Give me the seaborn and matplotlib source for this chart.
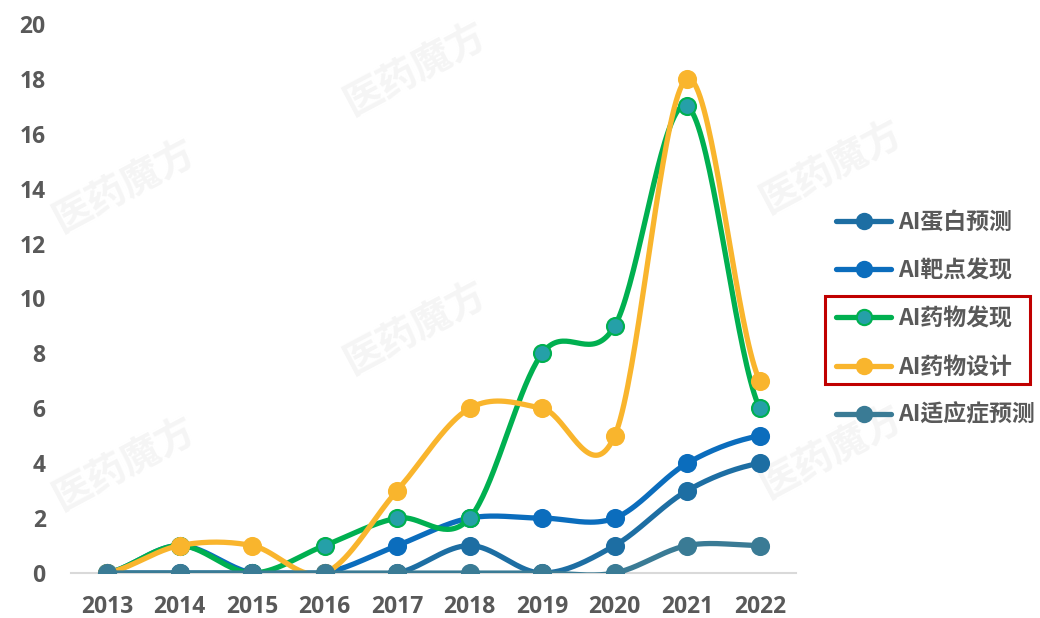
import numpy as np
import pandas as pd
import matplotlib
matplotlib.use("Agg")
import matplotlib.pyplot as plt
from matplotlib.lines import Line2D
from matplotlib.patches import Rectangle
import seaborn as sns

# ---- data -------------------------------------------------------------
years = ["2013", "2014", "2015", "2016", "2017", "2018", "2019", "2020", "2021", "2022"]
series_names = ["AI蛋白预测", "AI靶点发现", "AI药物发现", "AI药物设计", "AI适应症预测"]
protein_pred = [0, 0, 0, 0, 0, 1, 0, 1, 3, 4]
target_disc = [0, 1, 0, 0, 1, 2, 2, 2, 4, 5]
drug_disc = [0, 1, 0, 1, 2, 2, 8, 9, 17, 6]
drug_design = [0, 1, 1, 0, 3, 6, 6, 5, 18, 7]
indication_pred = [0, 0, 0, 0, 0, 0, 0, 0, 1, 1]
y_ticks = [0, 2, 4, 6, 8, 10, 12, 14, 16, 18, 20]

values = [protein_pred, target_disc, drug_disc, drug_design, indication_pred]
line_colors = ["#1d6ea3", "#0b6dbd", "#00b050", "#f9b52d", "#3a7b95"]
marker_faces = ["#1d6ea3", "#0b6dbd", "#25a0a8", "#f9b52d", "#3a7b95"]

sns.set_theme(style="white")
plt.rcParams["font.family"] = ["Open Sans", "Noto Sans CJK JP", "DejaVu Sans"]
plt.rcParams["font.weight"] = "bold"

fig = plt.figure(figsize=(10.4, 6.18), dpi=100)
ax = fig.add_axes([0.068, 0.0728, 0.6974, 0.8884])
ax.set_zorder(2)

# faint brand watermark behind the plot
for (wx, wy) in [(0.40, 0.89), (0.40, 0.47), (0.80, 0.73), (0.80, 0.27), (0.12, 0.70), (0.12, 0.25)]:
    fig.text(wx, wy, "医药魔方", fontsize=28, color="#f5f5f5", rotation=28,
             ha="center", va="center", zorder=0, family=["Noto Sans CJK JP"])


def smooth_curve(y, steps=40):
    """Piecewise cubic Bezier through the points (spreadsheet-style smoothing)."""
    y = np.asarray(y, dtype=float)
    n = len(y)
    padded = np.concatenate([[y[0]], y, [y[-1]]])
    xs, ys = [], []
    t = np.linspace(0, 1, steps)
    for i in range(n - 1):
        p0, p1, p2, p3 = padded[i], padded[i + 1], padded[i + 2], padded[i + 3]
        b0 = p1
        b1 = p1 + (p2 - p0) / 6.0
        b2 = p2 - (p3 - p1) / 6.0
        b3 = p2
        yy = (1 - t) ** 3 * b0 + 3 * (1 - t) ** 2 * t * b1 + 3 * (1 - t) * t ** 2 * b2 + t ** 3 * b3
        xs.append(i + t)
        ys.append(yy)
    return np.concatenate(xs), np.concatenate(ys)


x_pos = np.arange(len(years))
for k, (name, vals) in enumerate(zip(series_names, values)):
    sx, sy = smooth_curve(vals)
    sns.lineplot(x=sx, y=sy, ax=ax, color=line_colors[k], linewidth=3.8,
                 sort=False, zorder=2 + k, legend=False)
    sns.scatterplot(x=x_pos, y=vals, ax=ax, s=150, color=marker_faces[k],
                    edgecolor=line_colors[k], linewidth=1.5, zorder=2.5 + k, legend=False)

ax.set_xlim(-0.5, len(years) - 0.5)
ax.set_ylim(0, 20)
ax.set_xticks(x_pos)
ax.set_xticklabels(years)
ax.set_yticks(y_ticks)
ax.tick_params(axis="x", length=0, pad=16, labelsize=16.5, labelcolor="#595959")
ax.tick_params(axis="y", length=0, pad=18, labelsize=16.5, labelcolor="#595959")
for lab in ax.get_xticklabels() + ax.get_yticklabels():
    lab.set_fontweight("bold")

for side in ["top", "right", "left"]:
    ax.spines[side].set_visible(False)
ax.spines["bottom"].set_color("#d9d9d9")
ax.spines["bottom"].set_linewidth(1.5)
ax.set_facecolor("none")
ax.grid(False)

handles = [Line2D([0], [0], color=line_colors[k], linewidth=3.8, marker="o",
                  markersize=11, markerfacecolor=marker_faces[k],
                  markeredgecolor=line_colors[k], markeredgewidth=1.5)
           for k in range(len(series_names))]
leg = fig.legend(handles, series_names, loc="center left",
                 bbox_to_anchor=(836 / 1040, 1 - 319 / 618), frameon=False,
                 prop={"family": ["Noto Sans CJK JP"], "size": 16.5, "weight": "bold"},
                 labelcolor="#595959",
                 handlelength=2.4, handletextpad=0.3, labelspacing=1.1,
                 borderpad=0, borderaxespad=0)

fig.add_artist(Rectangle((825 / 1040, 1 - 384 / 618), 205 / 1040, 88 / 618,
                         transform=fig.transFigure, fill=False,
                         edgecolor="#c00000", linewidth=2.2))

fig.savefig("out.png", dpi=100, facecolor="white")
